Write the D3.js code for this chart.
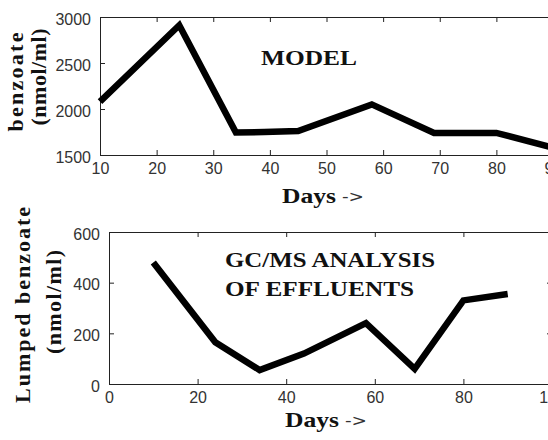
<!DOCTYPE html>
<html>
<head>
<meta charset="utf-8">
<script src="https://cdn.jsdelivr.net/npm/d3@7"></script>
<style>
  html, body { margin: 0; padding: 0; background: #fff; }
  svg { display: block; }
  .tick text { font-family: "Liberation Sans", Arial, sans-serif; font-size: 16px; fill: #333; }
  .domain, .tick line { stroke: #222; stroke-width: 1; }
  .title { font-family: "Liberation Serif", "Times New Roman", serif; font-weight: bold; font-size: 22px; fill: #111; }
  .arrow { font-family: "DejaVu Sans", sans-serif; font-size: 16px; fill: #333; }
</style>
</head>
<body>
<script>
// Model predictions of benzoate (nmol/ml) over time
const modelDays = [10, 24, 34, 39, 45, 58, 69, 80, 90];
const modelBenzoate = [2080, 2910, 1745, 1750, 1760, 2050, 1740, 1740, 1580];
const modelXTicks = [10, 20, 30, 40, 50, 60, 70, 80, 90];
const modelYTicks = [1500, 2000, 2500, 3000];

// GC/MS measurement of lumped benzoate in effluents
const gcmsDays = [10, 24, 34, 44, 58, 69, 80, 90];
const gcmsBenzoate = [480, 165, 55, 120, 240, 60, 330, 355];
const gcmsXTicks = [0, 20, 40, 60, 80, 100];
const gcmsYTicks = [0, 200, 400, 600];

const W = 548, H = 440;
const svg = d3.select("body").append("svg").attr("width", W).attr("height", H);

function panel(cfg) {
  const x = d3.scaleLinear().domain(cfg.xDomain).range([cfg.left, cfg.right]);
  const y = d3.scaleLinear().domain(cfg.yDomain).range([cfg.bottom, cfg.top]);
  const g = svg.append("g");

  // boxed axes with inward ticks on all four sides
  g.append("g").attr("transform", `translate(0,${cfg.bottom})`)
    .call(d3.axisBottom(x).tickValues(cfg.xTicks).tickSize(-5).tickSizeOuter(0).tickPadding(8).tickFormat(d3.format("d")));
  g.append("g").attr("transform", `translate(0,${cfg.top})`)
    .call(d3.axisTop(x).tickValues(cfg.xTicks).tickSize(-5).tickSizeOuter(0).tickFormat(""));
  g.append("g").attr("transform", `translate(${cfg.left},0)`)
    .call(d3.axisLeft(y).tickValues(cfg.yTicks).tickSize(-5).tickSizeOuter(0).tickPadding(9).tickFormat(d3.format("d")))
    .selectAll("text").attr("dy", "0.45em");
  g.append("g").attr("transform", `translate(${cfg.right},0)`)
    .call(d3.axisRight(y).tickValues(cfg.yTicks).tickSize(-5).tickSizeOuter(0).tickFormat(""));

  const line = d3.line().x((d, i) => x(cfg.days[i])).y(d => y(d));
  g.append("path").datum(cfg.values)
    .attr("d", line)
    .attr("fill", "none")
    .attr("stroke", "#000")
    .attr("stroke-width", 6.5)
    .attr("stroke-linejoin", "miter")
    .attr("stroke-linecap", "butt");

  // x axis title: "Days" in bold serif followed by a plain arrow
  g.append("text").attr("class", "title").attr("x", cfg.xTitleX).attr("y", cfg.xTitleY)
    .attr("textLength", 54).attr("lengthAdjust", "spacingAndGlyphs").text("Days");
  g.append("text").attr("class", "arrow").attr("x", cfg.xTitleX + 60).attr("y", cfg.xTitleY - 1)
    .attr("textLength", 22).attr("lengthAdjust", "spacingAndGlyphs").text("->");

  // y axis title (two rotated lines)
  cfg.yTitles.forEach(t => {
    g.append("text").attr("class", "title")
      .attr("transform", `translate(${t.x},${t.y}) rotate(-90)`)
      .attr("text-anchor", "middle")
      .attr("textLength", t.len).attr("lengthAdjust", "spacing")
      .text(t.text);
  });

  // annotation inside the plot area
  cfg.notes.forEach(n => {
    g.append("text").attr("class", "title").attr("x", n.x).attr("y", n.y)
      .attr("textLength", n.len).attr("lengthAdjust", "spacingAndGlyphs").text(n.text);
  });
}

panel({
  xDomain: [10, 90], yDomain: [1500, 3000],
  left: 100, right: 553, top: 17, bottom: 155,
  xTicks: modelXTicks, yTicks: modelYTicks,
  days: modelDays, values: modelBenzoate,
  xTitleX: 282, xTitleY: 203,
  yTitles: [
    { text: "benzoate", x: 23, y: 82, len: 99 },
    { text: "(nmol/ml)", x: 46, y: 77, len: 97 }
  ],
  notes: [{ text: "MODEL", x: 261, y: 65, len: 96 }]
});

panel({
  xDomain: [0, 100], yDomain: [0, 600],
  left: 109, right: 552, top: 232, bottom: 384,
  xTicks: gcmsXTicks, yTicks: gcmsYTicks,
  days: gcmsDays, values: gcmsBenzoate,
  xTitleX: 285, xTitleY: 427,
  yTitles: [
    { text: "Lumped benzoate", x: 30, y: 305, len: 196 },
    { text: "(nmol/ml)", x: 61, y: 302, len: 104 }
  ],
  notes: [
    { text: "GC/MS ANALYSIS", x: 225, y: 267, len: 210 },
    { text: "OF EFFLUENTS", x: 225, y: 296, len: 189 }
  ]
});
</script>
</body>
</html>
